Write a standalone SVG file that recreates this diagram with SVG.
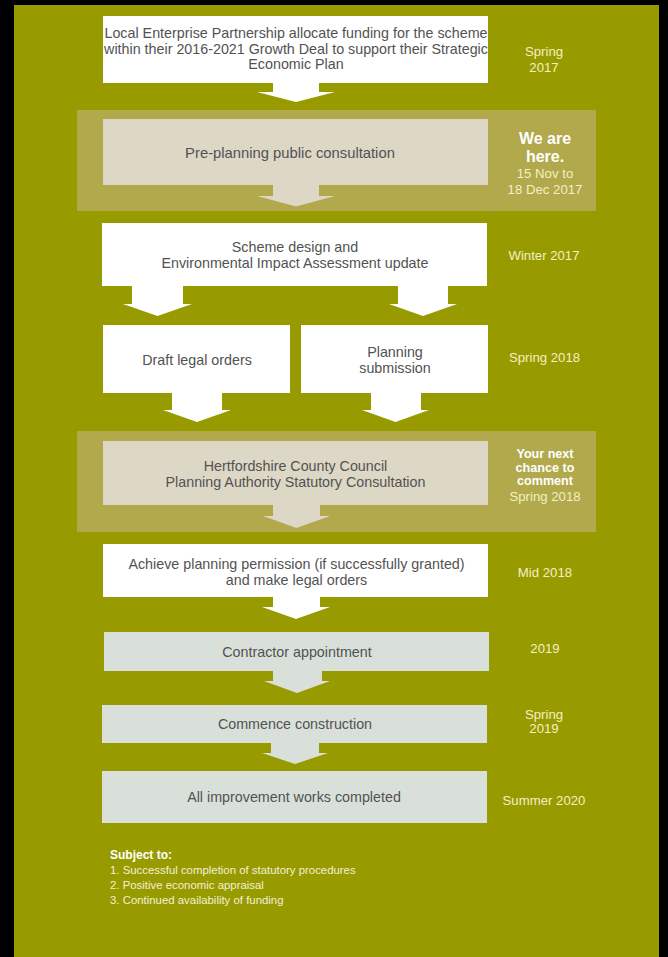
<svg xmlns="http://www.w3.org/2000/svg" width="668" height="957" viewBox="0 0 668 957">
<style>
.bt{font-family:"Liberation Sans",Arial,sans-serif;font-size:14.3px;fill:#525252;text-anchor:middle}
.dt{font-family:"Liberation Sans",Arial,sans-serif;font-size:13.2px;fill:#f3f0c4;text-anchor:middle}
.hb{font-family:"Liberation Sans",Arial,sans-serif;font-weight:bold;fill:#ffffff;text-anchor:middle}
.fn{font-family:"Liberation Sans",Arial,sans-serif;font-size:11.4px;fill:#f2f0d6}
.w{fill:#ffffff}
.b{fill:#ddd7c6}
.g{fill:#d9e0d9}
.band{fill:#b1a94b}
</style>
<rect x="0" y="0" width="668" height="957" fill="#000000"/>
<rect x="14" y="5" width="645" height="952" fill="#989b00"/>
<rect class="band" x="77" y="110" width="519" height="101"/>
<rect class="band" x="77" y="431" width="519" height="101"/>

<g id="connectors">
<path class="w" d="M273,83 H319 V92 H335 L296,102 L257,92 H273 Z"/>
<path class="b" d="M273,185 H319 V196 H335 L296,206.5 L257,196 H273 Z"/>
<path class="w" d="M132,286 H183 V304 H192 L157.5,316 L123,304 H132 Z"/>
<path class="w" d="M398,286 H448 V304 H457 L423,316 L389,304 H398 Z"/>
<path class="w" d="M172,393 H222 V410 H231 L197,422 L163,410 H172 Z"/>
<path class="w" d="M371,393 H421 V410 H429 L395.5,422 L362,410 H371 Z"/>
<path class="b" d="M273,505 H320 V516 H330 L296.5,528 L263,516 H273 Z"/>
<path class="w" d="M273,597 H320 V607 H330 L296,619 L262,607 H273 Z"/>
<path class="g" d="M273,671 H322 V681 H330 L297,693 L264,681 H273 Z"/>
<path class="g" d="M271,743 H319 V753 H328 L295,764 L262,753 H271 Z"/>
</g>

<g id="n-lep">
<rect class="w" x="103" y="16" width="385" height="67"/>
<text class="bt" x="296" y="38">Local Enterprise Partnership allocate funding for the scheme</text>
<text class="bt" x="296" y="53.5">within their 2016-2021 Growth Deal to support their Strategic</text>
<text class="bt" x="296" y="69">Economic Plan</text>
</g>
<g id="d-spring2017">
<text class="dt" x="544" y="56">Spring</text>
<text class="dt" x="544" y="72">2017</text>
</g>

<g id="n-preplanning">
<rect class="b" x="103" y="119" width="385" height="66"/>
<text class="bt" x="290" y="157.5" style="font-size:14.8px">Pre-planning public consultation</text>
</g>
<g id="d-wearehere">
<text class="hb" x="545" y="144" style="font-size:16px">We are</text>
<text class="hb" x="545" y="161.5" style="font-size:16px">here.</text>
<text class="dt" x="545" y="177.5">15 Nov to</text>
<text class="dt" x="545" y="193.5">18 Dec 2017</text>
</g>

<g id="n-scheme">
<rect class="w" x="102" y="223" width="385" height="63"/>
<text class="bt" x="295" y="251.5">Scheme design and</text>
<text class="bt" x="295" y="267.5">Environmental Impact Assessment update</text>
</g>
<g id="d-winter2017">
<text class="dt" x="544" y="260">Winter 2017</text>
</g>

<g id="n-draft">
<rect class="w" x="103" y="325" width="187" height="68"/>
<text class="bt" x="197" y="365">Draft legal orders</text>
</g>
<g id="n-planning">
<rect class="w" x="301" y="325" width="187" height="68"/>
<text class="bt" x="395" y="357">Planning</text>
<text class="bt" x="395" y="373">submission</text>
</g>
<g id="d-spring2018a">
<text class="dt" x="544.5" y="362">Spring 2018</text>
</g>

<g id="n-hcc">
<rect class="b" x="103" y="441" width="385" height="64"/>
<text class="bt" x="295.5" y="471">Hertfordshire County Council</text>
<text class="bt" x="295.5" y="487">Planning Authority Statutory Consultation</text>
</g>
<g id="d-nextchance">
<text class="hb" x="545" y="458" style="font-size:12.6px">Your next</text>
<text class="hb" x="545" y="471.5" style="font-size:12.6px">chance to</text>
<text class="hb" x="545" y="485" style="font-size:12.6px">comment</text>
<text class="dt" x="545" y="500.5">Spring 2018</text>
</g>

<g id="n-achieve">
<rect class="w" x="103" y="544" width="385" height="53"/>
<text class="bt" x="296.5" y="568.5">Achieve planning permission (if successfully granted)</text>
<text class="bt" x="296.5" y="584.5">and make legal orders</text>
</g>
<g id="d-mid2018">
<text class="dt" x="545" y="577">Mid 2018</text>
</g>

<g id="n-contractor">
<rect class="g" x="104" y="632" width="385" height="39"/>
<text class="bt" x="297" y="657">Contractor appointment</text>
</g>
<g id="d-2019">
<text class="dt" x="545" y="653">2019</text>
</g>

<g id="n-commence">
<rect class="g" x="102" y="705" width="385" height="38"/>
<text class="bt" x="295" y="728.5">Commence construction</text>
</g>
<g id="d-spring2019">
<text class="dt" x="544" y="718.5">Spring</text>
<text class="dt" x="544" y="733">2019</text>
</g>

<g id="n-complete">
<rect class="g" x="102" y="771" width="385" height="52"/>
<text class="bt" x="294" y="802">All improvement works completed</text>
</g>
<g id="d-summer2020">
<text class="dt" x="544" y="805">Summer 2020</text>
</g>

<g id="footnote">
<text class="fn" x="110" y="859" style="font-weight:bold;fill:#ffffff;font-size:12px">Subject to:</text>
<text class="fn" x="110" y="874">1. Successful completion of statutory procedures</text>
<text class="fn" x="110" y="889">2. Positive economic appraisal</text>
<text class="fn" x="110" y="904">3. Continued availability of funding</text>
</g>
</svg>
